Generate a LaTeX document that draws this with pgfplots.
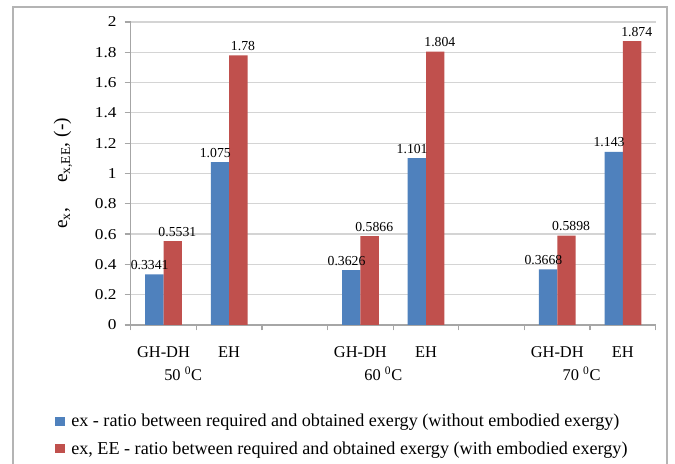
\documentclass[border=0pt]{standalone}
\usepackage{fontspec}
\setmainfont{Liberation Serif}
\newfontfamily\tickfont{Liberation Serif}[FakeStretch=1.15]
\usepackage{pgfplots}
\pgfplotsset{compat=1.18}
\definecolor{exblue}{HTML}{4F81BD}
\definecolor{exred}{HTML}{C0504D}
\definecolor{gridgray}{HTML}{D4D4D4}
\definecolor{axgray}{HTML}{A6A6A6}
\definecolor{framegray}{HTML}{B4B4B4}
\begin{document}
\begin{tikzpicture}[x=0.75pt,y=0.75pt]
\useasboundingbox (0,0) rectangle (675,464);
\fill[white] (0,0) rectangle (675,464);
\draw[framegray, line width=1.1pt] (13,-20) -- (13,457) -- (667,457) -- (667,-20);
\begin{axis}[
  at={(98.025pt,104.25pt)}, anchor=south west,
  width=393.75pt, height=227.25pt, scale only axis,
  xmin=-0.5, xmax=7.5, ymin=0, ymax=2,
  enlargelimits=false, clip=false,
  ybar=0pt, bar width=0.28,
  axis lines*=left,
  axis line style={axgray, line width=0.9pt},
  ymajorgrids, grid style={gridgray, line width=0.9pt},
  tick align=outside,
  major tick length=4.5pt, minor tick length=4pt,
  tick style={axgray, line width=0.9pt},
  every major x tick/.append style={draw=none},
  xtick={0,1,3,4,6,7},
  xticklabels={GH-DH,EH,GH-DH,EH,GH-DH,EH},
  minor xtick={-0.5,0.5,1.5,2.5,3.5,4.5,5.5,6.5,7.5},
  ytick={0,0.2,0.4,0.6,0.8,1,1.2,1.4,1.6,1.8,2},
  yticklabels={0,0.2,0.4,0.6,0.8,1,1.2,1.4,1.6,1.8,2},
  yticklabel style={font=\tickfont\fontsize{11.3}{13}\selectfont, anchor=east, xshift=-2.5pt},
  xticklabel style={font=\fontsize{12.3}{14}\selectfont, anchor=base, yshift=-20pt},
  ylabel={e\textsubscript{x},\hspace{1.3em}e\textsubscript{x,EE}, (-)},
  every axis y label/.style={at={(axis description cs:-0.129,0.50)}, anchor=center, rotate=90, font=\fontsize{14.5}{16}\selectfont},
  point meta=explicit symbolic,
  nodes near coords,
  every node near coord/.append style={font=\fontsize{10.3}{12}\selectfont, black},
  legend style={at={(axis description cs:-0.1442,-0.285)}, anchor=north west,
    draw=none, fill=none, inner sep=0pt, font=\fontsize{13.6}{16}\selectfont,
    row sep=5.5pt, column sep=3pt},
  legend cell align=left,
]
\addplot[fill=exblue, draw=none, bar shift=-0.14,
  every node near coord/.append style={xshift=-3.5pt},
  legend image code/.code={\fill[exblue] (0pt,-3.5pt) rectangle (7pt,3.5pt);}]
  coordinates {(0,0.3341)[0.3341] (1,1.075)[1.075] (3,0.3626)[0.3626] (4,1.101)[1.101] (6,0.3668)[0.3668] (7,1.143)[1.143]};
\addlegendentry{ex - ratio between required and obtained exergy (without embodied exergy)}
\addplot[fill=exred, draw=none, bar shift=0.14,
  every node near coord/.append style={xshift=3.5pt},
  legend image code/.code={\fill[exred] (0pt,-3.5pt) rectangle (7pt,3.5pt);}]
  coordinates {(0,0.5531)[0.5531] (1,1.78)[1.78] (3,0.5866)[0.5866] (4,1.804)[1.804] (6,0.5898)[0.5898] (7,1.874)[1.874]};
\addlegendentry{ex, EE - ratio between required and obtained exergy (with embodied exergy)}
\node[font=\fontsize{12.3}{14}\selectfont] at (axis cs:0.3,0) [yshift=-36.5pt] {50 \textsuperscript{0}C};
\node[font=\fontsize{12.3}{14}\selectfont] at (axis cs:3.35,0) [yshift=-36.5pt] {60 \textsuperscript{0}C};
\node[font=\fontsize{12.3}{14}\selectfont] at (axis cs:6.37,0) [yshift=-36.5pt] {70 \textsuperscript{0}C};
\end{axis}
\end{tikzpicture}
\end{document}
